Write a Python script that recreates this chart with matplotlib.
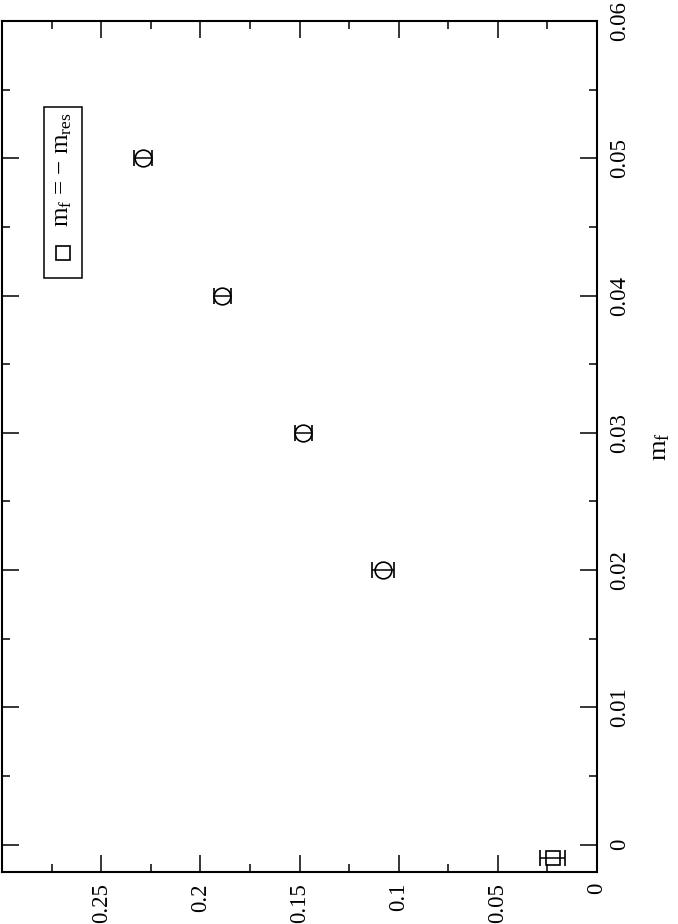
import matplotlib
matplotlib.use("Agg")
import matplotlib.pyplot as plt
from matplotlib.ticker import MultipleLocator
from matplotlib.patches import Rectangle

plt.rcParams['font.family'] = ['Liberation Serif', 'DejaVu Serif']
plt.rcParams['mathtext.fontset'] = 'custom'
plt.rcParams['mathtext.rm'] = 'Liberation Serif'
plt.rcParams['mathtext.it'] = 'Liberation Serif'

# data (plot is drawn rotated: horizontal = value, vertical = m_f)
mf = [0.02, 0.03, 0.04, 0.05]
val = [0.108, 0.148, 0.189, 0.229]
val_err = [0.0056, 0.0042, 0.0043, 0.0045]

mres_mf = [-0.00095]
mres_val = [0.0222]
mres_err = [0.0063]

fig = plt.figure(figsize=(6.78, 9.24), dpi=100)
L, R, T, B = 2, 597, 21, 872
W, H = R - L, B - T
ax = fig.add_axes([L/678, 1 - B/924, W/678, H/924])

ax.errorbar(val, mf, xerr=val_err, fmt='o', mfc='none', mec='k', ecolor='k',
            ms=12, mew=1.2, elinewidth=1.1, capsize=6, capthick=1.2)
ax.errorbar(mres_val, mres_mf, xerr=mres_err, fmt='s', mfc='none', mec='k', ecolor='k',
            ms=10, mew=1.2, elinewidth=1.1, capsize=6, capthick=1.2)

ax.set_xlim(0.3, 0)
ax.set_ylim(-0.002, 0.06)

ax.xaxis.set_minor_locator(MultipleLocator(0.025))
ax.yaxis.set_minor_locator(MultipleLocator(0.005))
ax.set_xticks([0, 0.05, 0.1, 0.15, 0.2, 0.25])
ax.set_xticklabels(['0', '0.05', '0.1', '0.15', '0.2', '0.25'])
ax.set_yticks([0, 0.01, 0.02, 0.03, 0.04, 0.05, 0.06])
ax.set_yticklabels(['0', '0.01', '0.02', '0.03', '0.04', '0.05', '0.06'])

ax.yaxis.tick_right()
ax.tick_params(which='both', direction='in', top=True, bottom=True, left=True, right=True,
               labelleft=False, labelright=True, labelsize=16.5)
ax.tick_params(which='major', length=12, width=1.1)
ax.tick_params(which='minor', length=6, width=1.1)
ax.tick_params(axis='x', labelrotation=90, pad=8)
ax.tick_params(axis='y', labelrotation=90, pad=9)
for lab in ax.get_yticklabels():
    lab.set_verticalalignment('center')
for sp in ax.spines.values():
    sp.set_linewidth(1.5)

ax.yaxis.set_label_position('right')
ax.set_ylabel(r'm$_{\mathregular{f}}$', fontsize=19, rotation=90, labelpad=14)

# legend drawn by hand since it is rotated
ax.add_patch(Rectangle(((44 - L)/W, (B - 278)/H), 38/W, 171/H, transform=ax.transAxes,
                       fill=False, lw=1.1, ec='k'))
ax.plot([(63 - L)/W], [(B - 253)/H], 's', mfc='none', mec='k', ms=10, mew=1.2,
        transform=ax.transAxes)
ax.text((63 - L)/W, (B - 170)/H, r'm$_{\mathregular{f}}$ = $-$ m$_{\mathregular{res}}$',
        transform=ax.transAxes, rotation=90, ha='center', va='center', fontsize=18)

fig.savefig('out.png', dpi=100)
